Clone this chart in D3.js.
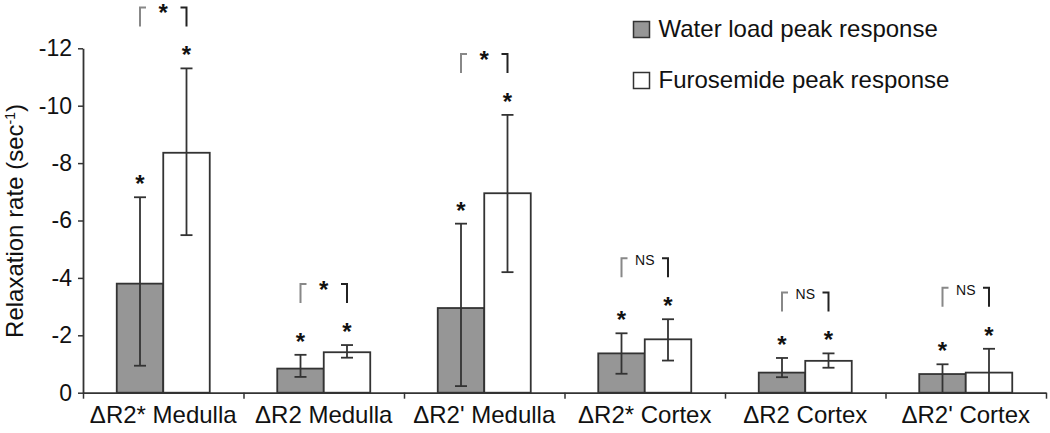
<!DOCTYPE html>
<html>
<head>
<meta charset="utf-8">
<script src="https://cdn.jsdelivr.net/npm/d3@7"></script>
<style>
  body { margin: 0; background: #fff; }
  svg { display: block; font-family: Arial, "Liberation Sans", sans-serif; }
</style>
</head>
<body>
<svg id="chart"></svg>
<script>
// categories and values (relaxation rate change, sec^-1)
const categories = ["ΔR2* Medulla", "ΔR2 Medulla", "ΔR2' Medulla", "ΔR2* Cortex", "ΔR2 Cortex", "ΔR2' Cortex"];
const seriesNames = ["Water load peak response", "Furosemide peak response"];
const waterMean = [-3.8, -0.84, -2.95, -1.37, -0.70, -0.65];
const waterLow = [-0.94, -0.55, -0.23, -0.66, -0.54, 0];
const waterHigh = [-6.81, -1.32, -5.89, -2.07, -1.21, -0.99];
const furoMean = [-8.36, -1.41, -6.95, -1.86, -1.11, -0.70];
const furoLow = [-5.49, -1.22, -4.20, -1.12, -0.87, 0];
const furoHigh = [-11.30, -1.66, -9.68, -2.56, -1.37, -1.53];
const significance = ["*", "*", "*", "NS", "NS", "NS"];
const yTicks = [0, -2, -4, -6, -8, -10, -12];

const width = 1050, height = 433;
const ink = "#333";

const svg = d3.select("#chart")
    .attr("width", width)
    .attr("height", height);

// scales
const x = d3.scaleBand().domain(categories).range([83, 1046]).padding(0);
const xs = d3.scaleBand().domain(["water", "furo"]).range([0, x.bandwidth()])
    .paddingInner(0).paddingOuter(0.726);
const y = d3.scaleLinear().domain([0, -12]).range([392.7, 48.3]);

const rows = categories.map((c, i) => ({
    cat: c,
    sig: significance[i],
    bars: [
        { key: "water", mean: waterMean[i], low: waterLow[i], high: waterHigh[i], fill: "#969696" },
        { key: "furo", mean: furoMean[i], low: furoLow[i], high: furoHigh[i], fill: "#fff" }
    ]
}));

const cx = (r, b) => x(r.cat) + xs(b.key) + xs.bandwidth() / 2;

// bars
const groups = svg.append("g").selectAll("g")
    .data(rows)
    .enter()
    .append("g");

groups.selectAll("rect")
    .data(r => r.bars)
    .enter()
    .append("rect")
    .attr("x", function(b) { return x(d3.select(this.parentNode).datum().cat) + xs(b.key); })
    .attr("width", xs.bandwidth())
    .attr("y", b => y(b.mean))
    .attr("height", b => y(0) - y(b.mean))
    .attr("fill", b => b.fill)
    .attr("stroke", ink)
    .attr("stroke-width", 1.8);

// error bars
rows.forEach(r => {
    r.bars.forEach(b => {
        const px = cx(r, b);
        const g = svg.append("g").attr("stroke", ink).attr("stroke-width", 1.8);
        g.append("line").attr("x1", px).attr("x2", px).attr("y1", y(b.low)).attr("y2", y(b.high));
        g.append("line").attr("x1", px - 6).attr("x2", px + 6).attr("y1", y(b.high)).attr("y2", y(b.high));
        if (b.low !== 0)
            g.append("line").attr("x1", px - 6).attr("x2", px + 6).attr("y1", y(b.low)).attr("y2", y(b.low));
        // asterisk above each error bar
        svg.append("text")
            .attr("x", px)
            .attr("y", y(b.high) - 19 + 14)
            .attr("text-anchor", "middle")
            .attr("font-size", 24)
            .attr("font-weight", "bold")
            .attr("fill", "#111")
            .text("*");
    });

    // comparison bracket
    const x1 = cx(r, r.bars[0]), x2 = cx(r, r.bars[1]);
    const starTop = Math.min(y(r.bars[0].high), y(r.bars[1].high)) - 19;
    const bottom = starTop - 23, top = bottom - 19;
    svg.append("path")
        .attr("d", `M${x1},${bottom}V${top}H${x1 + 6}`)
        .attr("fill", "none").attr("stroke", "#888").attr("stroke-width", 2);
    svg.append("path")
        .attr("d", `M${x2},${bottom}V${top}H${x2 - 6}`)
        .attr("fill", "none").attr("stroke", "#222").attr("stroke-width", 2);
    const mid = (x1 + x2) / 2;
    if (r.sig === "NS") {
        svg.append("text").attr("x", mid).attr("y", top + 7)
            .attr("text-anchor", "middle").attr("font-size", 14).attr("fill", "#111")
            .text(r.sig);
    } else {
        svg.append("text").attr("x", mid).attr("y", top + 14)
            .attr("text-anchor", "middle").attr("font-size", 24).attr("font-weight", "bold")
            .attr("fill", "#111").text(r.sig);
    }
});

// x axis: ticks at category boundaries
const xb = d3.scaleLinear().domain([0, categories.length]).range(x.range());
const xAxis = svg.append("g")
    .attr("transform", "translate(0," + y(0) + ")")
    .call(d3.axisBottom(xb).ticks(categories.length).tickFormat("").tickSize(6).tickSizeOuter(0));
xAxis.select(".domain").attr("stroke", ink).attr("stroke-width", 1.8);
xAxis.selectAll(".tick line").attr("stroke", ink).attr("stroke-width", 1.5);

svg.append("g").selectAll("text")
    .data(categories)
    .enter()
    .append("text")
    .attr("x", d => x(d) + x.bandwidth() / 2)
    .attr("y", 423)
    .attr("text-anchor", "middle")
    .attr("font-size", 24)
    .attr("fill", "#111")
    .text(d => d);

// y axis
const yAxis = svg.append("g")
    .attr("transform", "translate(" + x.range()[0] + ",0)")
    .call(d3.axisLeft(y).tickValues(yTicks).tickFormat(d => String(d)).tickSize(5).tickSizeOuter(0).tickPadding(6));
yAxis.select(".domain").attr("stroke", ink).attr("stroke-width", 1.8);
yAxis.selectAll(".tick line").attr("stroke", ink).attr("stroke-width", 1.5);
yAxis.selectAll(".tick text").attr("font-size", 23).attr("fill", "#111")
    .attr("font-family", "Arial, 'Liberation Sans', sans-serif");

const title = svg.append("text")
    .attr("transform", "translate(23,221) rotate(-90)")
    .attr("text-anchor", "middle")
    .attr("font-size", 24)
    .attr("fill", "#111");
title.append("tspan").text("Relaxation rate (sec");
title.append("tspan").attr("font-size", 14).attr("dy", -8).text("-1");
title.append("tspan").attr("dy", 8).text(")");

// legend
const legend = svg.append("g").selectAll("g")
    .data(seriesNames)
    .enter()
    .append("g")
    .attr("transform", (d, i) => "translate(633.5," + (21.5 + i * 51) + ")");
legend.append("rect")
    .attr("width", 16).attr("height", 16)
    .attr("fill", (d, i) => rows[0].bars[i].fill)
    .attr("stroke", ink).attr("stroke-width", 1.5);
legend.append("text")
    .attr("x", 25).attr("y", 15)
    .attr("font-size", 24)
    .attr("fill", "#111")
    .text(d => d);
</script>
</body>
</html>
